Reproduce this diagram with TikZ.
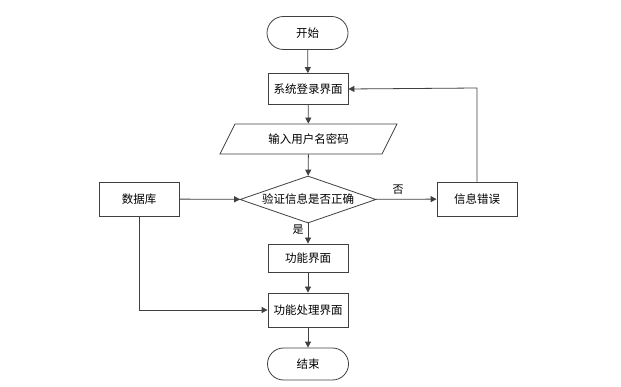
\documentclass[tikz,border=0pt]{standalone}
\usepackage{fontspec}
\setmainfont{Noto Sans CJK SC}
\usetikzlibrary{shapes.geometric,shapes.misc,arrows.meta}
\definecolor{lc}{HTML}{404040}
\tikzset{
  base/.style={draw=lc, line width=0.8pt, fill=white, font=\fontsize{11.5}{13}\selectfont, inner sep=0pt, anchor=center},
  procbox/.style={base, rectangle, minimum width=80pt, minimum height=31pt},
  termbox/.style={base, rounded rectangle, minimum width=81pt, minimum height=33pt},
  iobox/.style={base, rectangle, draw=none, fill=none, minimum width=148pt, minimum height=30pt},
  decbox/.style={base, diamond, minimum width=136pt, minimum height=47pt, aspect=2.9},
  conn/.style={draw=lc, line width=0.8pt, -{Triangle[length=6pt,width=6pt]}},
  outline/.style={draw=lc, line width=0.8pt, fill=white},
  lbl/.style={font=\fontsize{11}{12}\selectfont, inner sep=0pt}
}
\begin{document}
\begin{tikzpicture}[x=1pt,y=-1pt]
\useasboundingbox (0,0) rectangle (621,387);
\node[termbox] (start) at (307.5,33) {开始};
\node[procbox, minimum height=31pt] (login) at (308,89) {系统登录界面};
\draw[outline] (220,154) -- (235,124) -- (397,124) -- (382,154) -- cycle;
\node[iobox] (input) at (308.5,139) {输入用户名密码};
\node[decbox] (check) at (308,199.5) {验证信息是否正确};
\node[procbox, minimum height=34pt] (err) at (477,199) {信息错误};
\node[procbox, minimum height=34pt] (db) at (139,199) {数据库};
\node[procbox, minimum height=28pt] (func) at (308,258) {功能界面};
\node[procbox, minimum height=34pt] (proc) at (308,310) {功能处理界面};
\node[termbox, minimum height=32pt] (end) at (308,364) {结束};
\coordinate (c1) at (477,88);
\coordinate (c2) at (139,310);
\draw[conn] (start) -- (login);
\draw[conn] (login) -- (input);
\draw[conn] (input) -- (check);
\draw[conn] (check) -- (err);
\draw[conn] (err.north) -- (c1) -- (login.east);
\draw[conn] (db) -- (check);
\draw[conn] (check) -- (func);
\draw[conn] (func) -- (proc);
\draw[conn] (db.south) -- (c2) -- (proc.west);
\draw[conn] (proc) -- (end);
\node[lbl] (no) at (398,190) {否};
\node[lbl] (yes) at (298,230) {是};
\end{tikzpicture}
\end{document}
